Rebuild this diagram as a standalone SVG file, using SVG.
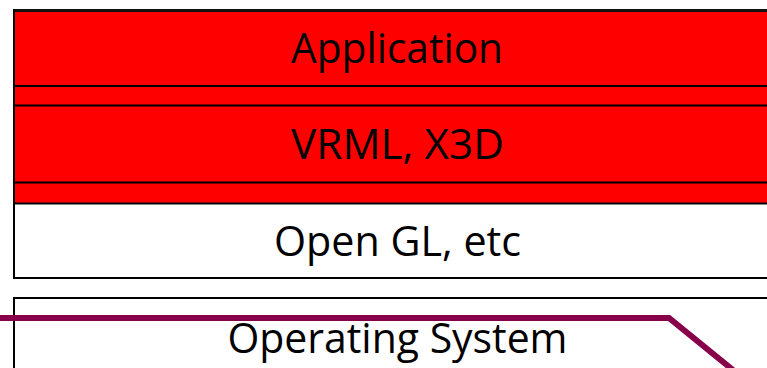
<svg xmlns="http://www.w3.org/2000/svg" width="767" height="368" viewBox="0 0 767 368">
<style>
.lbl{font-family:"Open Sans","Noto Sans","Liberation Sans",sans-serif;font-size:42px;fill:#000;text-anchor:middle}
.red{fill:#ff0000}
.ln{stroke:#000;stroke-width:2;fill:none}
</style>
<rect x="0" y="0" width="767" height="368" fill="#fff"/>
<g id="stack">
  <rect class="red" x="14" y="10.5" width="760" height="193"/>
  <line x1="13" y1="10.5" x2="767" y2="10.5" stroke="#111" stroke-width="3"/>
  <line class="ln" x1="14" y1="9" x2="14" y2="279"/>
  <line class="ln" x1="13" y1="278" x2="767" y2="278" stroke="#333"/>
</g>
<g id="application">
  <line class="ln" x1="14" y1="86" x2="767" y2="86"/>
  <text class="lbl" x="397" y="63" textLength="212" lengthAdjust="spacingAndGlyphs">Application</text>
</g>
<g id="vrml">
  <line class="ln" x1="14" y1="105.5" x2="767" y2="105.5"/>
  <line class="ln" x1="14" y1="182.5" x2="767" y2="182.5"/>
  <text class="lbl" x="397.5" y="159" textLength="213" lengthAdjust="spacingAndGlyphs">VRML, X3D</text>
</g>
<g id="opengl">
  <line class="ln" x1="14" y1="203.5" x2="767" y2="203.5"/>
  <text class="lbl" x="397.5" y="256" textLength="247" lengthAdjust="spacingAndGlyphs">Open GL, etc</text>
</g>
<g id="os">
  <line class="ln" x1="13" y1="298" x2="767" y2="298"/>
  <line class="ln" x1="14" y1="297" x2="14" y2="368"/>
  <text class="lbl" x="397.5" y="352.5" textLength="340" lengthAdjust="spacingAndGlyphs">Operating System</text>
</g>
<g id="connectors">
  <polyline points="0,318 669,318 733,370" fill="none" stroke="#86004a" stroke-width="6"/>
</g>
</svg>
